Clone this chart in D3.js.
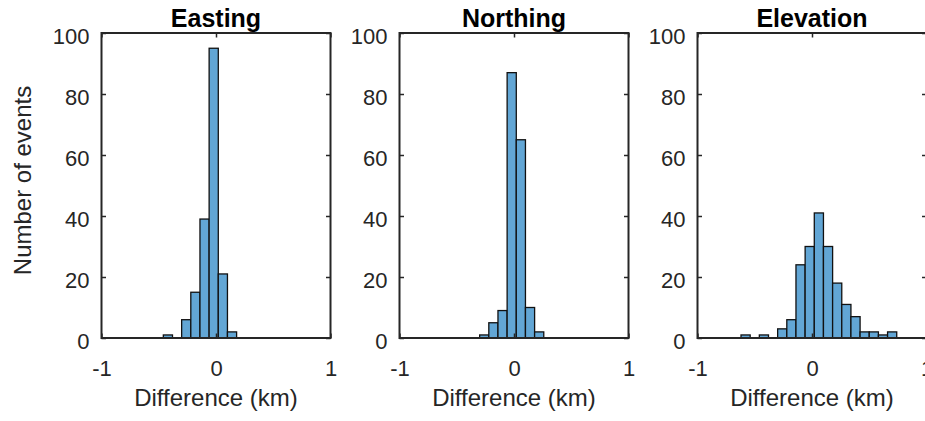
<!DOCTYPE html>
<html>
<head>
<meta charset="utf-8">
<script src="https://cdn.jsdelivr.net/npm/d3@7"></script>
<style>
body { margin: 0; background: #fff; overflow: hidden; }
svg { font-family: "Liberation Sans", Arial, sans-serif; display: block; }
</style>
</head>
<body>
<div id="chart"></div>
<script>
// histogram counts, bins are 0.08 km wide
var titles = ["Easting", "Northing", "Elevation"];
var binWidth = 0.08;
var eastingStart = -0.46;
var eastingCounts = [1, 0, 6, 15, 39, 95, 21, 2];
var northingStart = -0.30;
var northingCounts = [1, 5, 9, 87, 65, 10, 2];
var elevationStart = -0.62;
var elevationCounts = [1, 0, 1, 0, 3, 6, 24, 30, 41, 30, 18, 11, 7, 2, 2, 1, 2];
var xTicks = [-1, 0, 1];
var yTicks = [0, 20, 40, 60, 80, 100];
var xLabel = "Difference (km)";
var yLabel = "Number of events";

var panels = [
    { title: titles[0], start: eastingStart, counts: eastingCounts },
    { title: titles[1], start: northingStart, counts: northingCounts },
    { title: titles[2], start: elevationStart, counts: elevationCounts }
];

var W = 925, H = 421;
var panelLeft = [101.5, 399.5, 697.5],
    panelTop = 33,
    width = 229,
    height = 305;

var barColor = "rgb(98,166,213)",
    axisColor = "#262626";

var svg = d3.select("#chart").append("svg")
    .attr("width", W)
    .attr("height", H);

var x = d3.scaleLinear().domain([-1, 1]).range([0, width]);
var y = d3.scaleLinear().domain([0, 100]).range([height, 0]);

panels.forEach(function(p, k){
    var g = svg.append("g")
        .attr("transform", "translate(" + panelLeft[k] + "," + panelTop + ")");

    var bins = p.counts.map(function(c, i){
        return { x0: p.start + i * binWidth, x1: p.start + (i + 1) * binWidth, n: c };
    }).filter(function(d){ return d.n > 0; });

    g.selectAll("rect.bar")
        .data(bins)
        .enter().append("rect")
        .attr("class", "bar")
        .attr("x", function(d){ return x(d.x0); })
        .attr("y", function(d){ return y(d.n); })
        .attr("width", function(d){ return x(d.x1) - x(d.x0); })
        .attr("height", function(d){ return height - y(d.n); })
        .attr("fill", barColor)
        .attr("stroke", "#111")
        .attr("stroke-width", 1.3);

    var fmt = function(d){ return String(d); };

    var leftAx = g.append("g")
        .call(d3.axisLeft(y).tickValues(yTicks).tickSize(-4.5).tickPadding(12).tickFormat(fmt));
    leftAx.selectAll("text").attr("dy", "0.47em");

    var rightAx = g.append("g")
        .attr("transform", "translate(" + width + ",0)")
        .call(d3.axisRight(y).tickValues(yTicks).tickSize(-4.5).tickFormat(""));

    var topAx = g.append("g")
        .call(d3.axisTop(x).tickValues(xTicks).tickSize(-4.5).tickFormat(""));

    var bottomAx = g.append("g")
        .attr("transform", "translate(0," + height + ")")
        .call(d3.axisBottom(x).tickValues(xTicks).tickSize(-4.5).tickPadding(22).tickFormat(fmt));

    [leftAx, rightAx, topAx, bottomAx].forEach(function(a){
        a.select(".domain").remove();
        a.selectAll("line").attr("stroke", axisColor).attr("stroke-width", 1.5);
        a.selectAll("text")
            .attr("fill", axisColor)
            .attr("font-size", "22px")
            .attr("font-family", "Liberation Sans, Arial, sans-serif");
    });

    g.append("rect")
        .attr("x", 0)
        .attr("y", 0)
        .attr("width", width)
        .attr("height", height)
        .attr("fill", "none")
        .attr("stroke", axisColor)
        .attr("stroke-width", 2);

    g.append("text")
        .attr("x", width / 2)
        .attr("y", -6)
        .attr("text-anchor", "middle")
        .attr("font-size", "25px")
        .attr("font-weight", "bold")
        .attr("fill", "#000")
        .text(p.title);

    g.append("text")
        .attr("x", width / 2)
        .attr("y", 373)
        .attr("text-anchor", "middle")
        .attr("font-size", "24px")
        .attr("fill", axisColor)
        .text(xLabel);
});

svg.append("text")
    .attr("transform", "translate(30.5," + (panelTop + height / 2 - 5) + ") rotate(-90)")
    .attr("text-anchor", "middle")
    .attr("font-size", "24px")
    .attr("fill", axisColor)
    .text(yLabel);
</script>
</body>
</html>
